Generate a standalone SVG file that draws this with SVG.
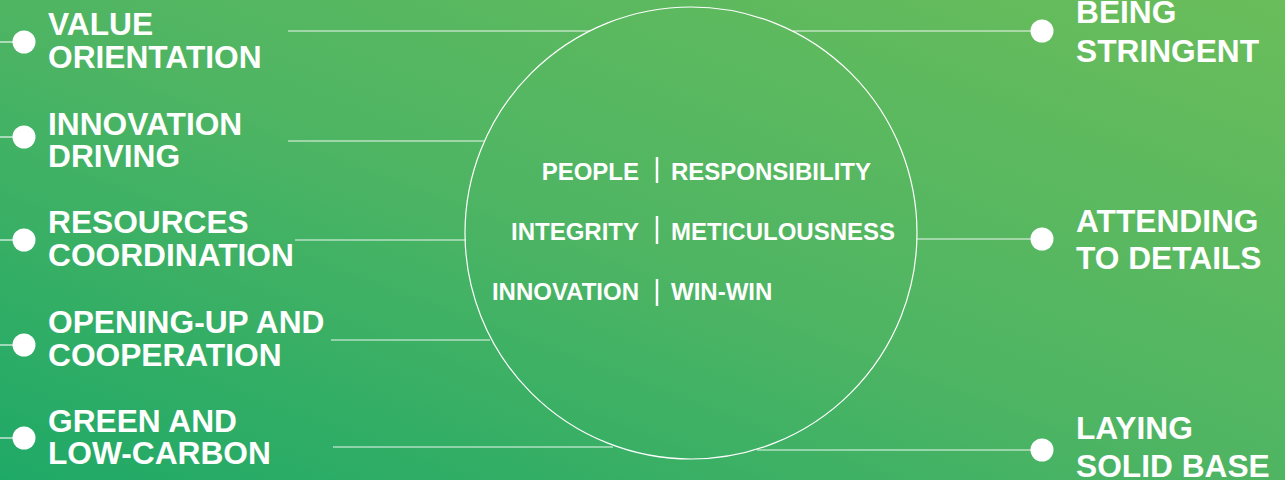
<svg xmlns="http://www.w3.org/2000/svg" width="1285" height="480" viewBox="0 0 1285 480">
<defs>
<linearGradient id="bg" x1="0" y1="1" x2="1" y2="0">
<stop offset="0" stop-color="#1fa967"/>
<stop offset="0.5" stop-color="#4fb563"/>
<stop offset="1" stop-color="#6abd5a"/>
</linearGradient>
</defs>
<style>
.lbl{font-family:"Liberation Sans",Arial,sans-serif;font-weight:bold;font-size:31.7px;fill:#fff}
.core{font-family:"Liberation Sans",Arial,sans-serif;font-weight:bold;font-size:24px;fill:#fff}
.ln{stroke:#fff;stroke-width:1.2;fill:none;opacity:0.9}
.dot{fill:#fff}
.bar{stroke:#fff;stroke-width:2.5}
</style>
<rect x="0" y="0" width="1285" height="480" fill="url(#bg)"/>
<g id="connectors">
<line class="ln" x1="288" y1="31" x2="590" y2="31"/>
<line class="ln" x1="288" y1="141" x2="484" y2="141"/>
<line class="ln" x1="295" y1="240" x2="466" y2="240"/>
<line class="ln" x1="331" y1="340" x2="490" y2="340"/>
<line class="ln" x1="333" y1="447" x2="613" y2="447"/>
<line class="ln" x1="793" y1="31" x2="1041" y2="31"/>
<line class="ln" x1="917" y1="239" x2="1041" y2="239"/>
<line class="ln" x1="757" y1="450" x2="1041" y2="450"/>
<line class="ln" x1="0" y1="42" x2="24" y2="42"/>
<line class="ln" x1="0" y1="137" x2="24" y2="137"/>
<line class="ln" x1="0" y1="240" x2="24" y2="240"/>
<line class="ln" x1="0" y1="345" x2="24" y2="345"/>
<line class="ln" x1="0" y1="438" x2="24" y2="438"/>
</g>
<g id="center">
<circle cx="691" cy="233" r="226" fill="none" stroke="#fff" stroke-width="1.2"/>
<text class="core" x="639" y="180" text-anchor="end">PEOPLE</text>
<text class="core" x="671" y="180">RESPONSIBILITY</text>
<line class="bar" x1="657" y1="157" x2="657" y2="183"/>
<text class="core" x="639" y="240" text-anchor="end">INTEGRITY</text>
<text class="core" x="671" y="240">METICULOUSNESS</text>
<line class="bar" x1="657" y1="216" x2="657" y2="244"/>
<text class="core" x="639" y="300" text-anchor="end">INNOVATION</text>
<text class="core" x="671" y="300">WIN-WIN</text>
<line class="bar" x1="657" y1="279" x2="657" y2="306"/>
</g>
<g id="value-orientation">
<circle class="dot" cx="24" cy="42" r="11.5"/>
<text class="lbl" x="48" y="35">VALUE</text>
<text class="lbl" x="48" y="68">ORIENTATION</text>
</g>
<g id="innovation-driving">
<circle class="dot" cx="24" cy="137" r="11.5"/>
<text class="lbl" x="48" y="135">INNOVATION</text>
<text class="lbl" x="48" y="167">DRIVING</text>
</g>
<g id="resources-coordination">
<circle class="dot" cx="24" cy="240" r="11.5"/>
<text class="lbl" x="48" y="233">RESOURCES</text>
<text class="lbl" x="48" y="266">COORDINATION</text>
</g>
<g id="opening-up">
<circle class="dot" cx="24" cy="345" r="11.5"/>
<text class="lbl" x="48" y="333">OPENING-UP AND</text>
<text class="lbl" x="48" y="366">COOPERATION</text>
</g>
<g id="green-low-carbon">
<circle class="dot" cx="24" cy="438" r="11.5"/>
<text class="lbl" x="48" y="432">GREEN AND</text>
<text class="lbl" x="48" y="464">LOW-CARBON</text>
</g>
<g id="being-stringent">
<circle class="dot" cx="1042" cy="31" r="11.5"/>
<text class="lbl" x="1076" y="23">BEING</text>
<text class="lbl" x="1076" y="62">STRINGENT</text>
</g>
<g id="attending-details">
<circle class="dot" cx="1042" cy="239" r="11.5"/>
<text class="lbl" x="1076" y="232">ATTENDING</text>
<text class="lbl" x="1076" y="269">TO DETAILS</text>
</g>
<g id="laying-solid-base">
<circle class="dot" cx="1042" cy="450" r="11.5"/>
<text class="lbl" x="1076" y="439">LAYING</text>
<text class="lbl" x="1076" y="477">SOLID BASE</text>
</g>
</svg>
